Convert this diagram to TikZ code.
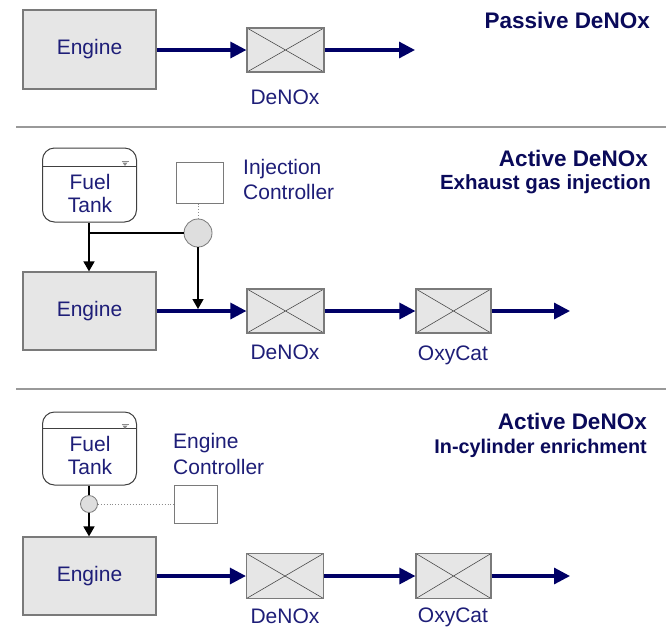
\documentclass[tikz,border=0pt]{standalone}
\usepackage{fontspec}
\setmainfont{Liberation Sans}
\usetikzlibrary{arrows.meta}
\definecolor{navy}{HTML}{000066}
\definecolor{txtc}{HTML}{1E1E78}
\definecolor{ttlc}{HTML}{0A0A5A}
\definecolor{boxfill}{HTML}{E6E6E6}
\definecolor{boxdraw}{HTML}{7A7A7A}
\begin{document}
\begin{tikzpicture}[x=1pt,y=-1pt,
  lbl/.style={font=\fontsize{21}{24}\selectfont, text=txtc, inner sep=0pt},
  engbox/.style={draw=boxdraw, fill=boxfill, line width=1.2pt, minimum width=133pt, minimum height=78pt, inner sep=0pt, lbl},
  cat/.style={draw=boxdraw, fill=boxfill, line width=1.2pt, minimum width=77pt, minimum height=44pt, inner sep=0pt,
    path picture={\draw[black!70, line width=0.6pt] (path picture bounding box.south west) -- (path picture bounding box.north east) (path picture bounding box.north west) -- (path picture bounding box.south east);}},
  tank/.style={draw=black!75, fill=white, rounded corners=12pt, line width=1pt, minimum width=94pt, minimum height=74pt, inner sep=0pt},
  ctl/.style={draw=boxdraw, fill=white, line width=1pt, inner sep=0pt},
  valve/.style={circle, draw=boxdraw, fill=black!13, line width=0.8pt, inner sep=0pt},
  ttl/.style={font=\bfseries\fontsize{22.5}{26}\selectfont, text=ttlc, inner sep=0pt, anchor=east},
  ttls/.style={font=\bfseries\fontsize{20.5}{24}\selectfont, text=ttlc, inner sep=0pt, anchor=east},
  flow/.style={navy, line width=3.2pt, -{Triangle[length=16pt,width=16pt]}},
  fuel/.style={black, line width=1.5pt},
  fuelarr/.style={fuel, -{Triangle[length=10pt,width=11pt]}},
  sig/.style={black!45, line width=0.9pt, dotted},
  sep/.style={black!40, line width=2pt}]
\fill[white] (0,0) rectangle (666,630);
\useasboundingbox (0,0) rectangle (666,630);

% ---------- Passive DeNOx ----------
\node[engbox, minimum height=79pt] (eng1) at (89.5,49.5) {Engine};
\node[cat] (dn1) at (285.5,50) {};
\coordinate (out1) at (415,50);
\draw[flow] (eng1.east |- dn1.west) -- (dn1.west);
\draw[flow] (dn1.east) -- (out1);
\node[lbl] (dn1l) at (285,97) {DeNOx};
\node[ttl] (t1) at (650,20) {Passive DeNOx};
\coordinate (s1a) at (16,127);
\coordinate (s1b) at (666,127);
\draw[sep] (s1a) -- (s1b);

% ---------- Active DeNOx: exhaust gas injection ----------
\node[tank] (tank2) at (89.5,185) {};
\draw[black!75, line width=0.8pt] ([yshift=-19pt]tank2.north west) -- ([yshift=-19pt]tank2.north east);
\draw[black!45, line width=0.6pt] (121.5,161) -- (128.5,161);
\fill[black!45] (122.5,162.5) -- (127.5,162.5) -- (125,166) -- cycle;
\node[lbl] (fuel2) at (90,182) {Fuel};
\node[lbl] (tk2) at (90,205) {Tank};
\node[ctl, minimum width=47pt, minimum height=41pt] (ctl2) at (199.5,182.5) {};
\node[lbl, anchor=west] (ic1) at (243,169) {Injection};
\node[lbl, anchor=west] (ic2) at (243,192) {Controller};
\node[valve, minimum size=28pt] (circ2) at (198,233) {};
\draw[sig] (ctl2.south -| circ2.north) -- (circ2.north);
\coordinate (j2) at (89,233);
\node[engbox] (eng2) at (89.5,311) {Engine};
\draw[fuel] (tank2.south -| j2) -- (j2) -- (circ2.west);
\draw[fuelarr] (j2) -- (eng2.north -| j2);
\node[cat] (dn2) at (285.5,311) {};
\node[cat, minimum width=75pt] (ox2) at (453.5,311) {};
\coordinate (out2) at (570,311);
\draw[flow] (eng2.east) -- (dn2.west);
\draw[flow] (dn2.east) -- (ox2.west);
\draw[flow] (ox2.east) -- (out2);
\coordinate (inj) at (198,309);
\draw[fuelarr] (circ2.south) -- (inj);
\node[lbl] (dn2l) at (285,352) {DeNOx};
\node[lbl] (ox2l) at (453,355) {OxyCat};
\node[ttl] (t2a) at (648,158) {Active DeNOx};
\node[ttls] (t2b) at (651,184) {Exhaust gas injection};
\coordinate (s2a) at (16,389);
\coordinate (s2b) at (666,389);
\draw[sep] (s2a) -- (s2b);

% ---------- Active DeNOx: in-cylinder enrichment ----------
\node[tank, minimum height=73pt] (tank3) at (89.5,448.5) {};
\draw[black!75, line width=0.8pt] ([yshift=-17pt]tank3.north west) -- ([yshift=-17pt]tank3.north east);
\draw[black!45, line width=0.6pt] (121.5,424) -- (128.5,424);
\fill[black!45] (122.5,425.5) -- (127.5,425.5) -- (125,429) -- cycle;
\node[lbl] (fuel3) at (90,444) {Fuel};
\node[lbl] (tk3) at (90,467) {Tank};
\node[valve, minimum size=17pt] (circ3) at (89,504) {};
\node[ctl, minimum width=43pt, minimum height=38pt] (ctl3) at (195.5,504) {};
\node[lbl, anchor=west] (ec1) at (173,443) {Engine};
\node[lbl, anchor=west] (ec2) at (173,467) {Controller};
\draw[sig] (circ3.east) -- (ctl3.west);
\node[engbox] (eng3) at (89.5,576) {Engine};
\draw[fuel] (tank3.south -| circ3.north) -- (circ3.north);
\draw[fuelarr] (circ3.south) -- (eng3.north -| circ3.south);
\node[cat, minimum height=45pt] (dn3) at (285,576) {};
\node[cat, minimum width=75pt, minimum height=45pt] (ox3) at (453.5,576) {};
\coordinate (out3) at (570,576);
\draw[flow] (eng3.east) -- (dn3.west);
\draw[flow] (dn3.east) -- (ox3.west);
\draw[flow] (ox3.east) -- (out3);
\node[lbl] (dn3l) at (285,616) {DeNOx};
\node[lbl] (ox3l) at (453,617) {OxyCat};
\node[ttl] (t3a) at (647,421) {Active DeNOx};
\node[ttls, font=\bfseries\fontsize{19.8}{24}\selectfont] (t3b) at (647,448) {In-cylinder enrichment};
\end{tikzpicture}
\end{document}
